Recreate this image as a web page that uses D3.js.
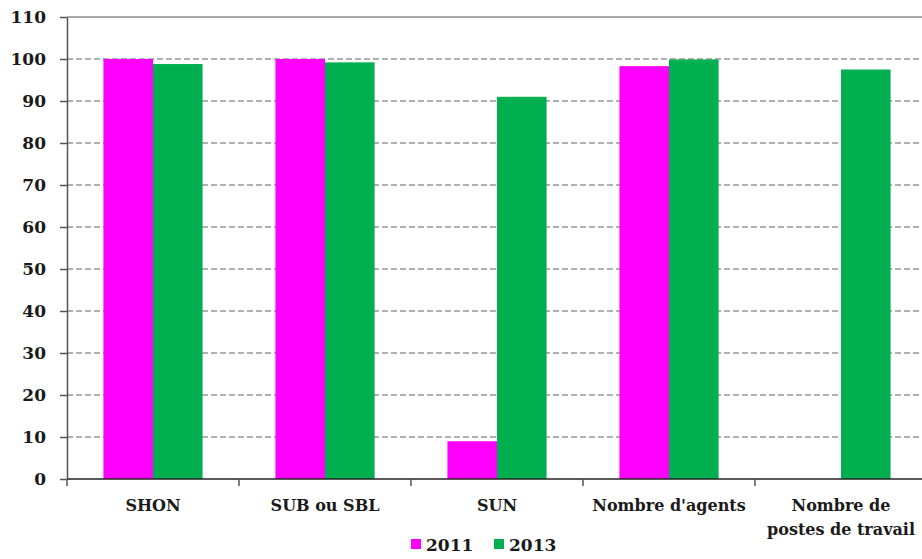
<!DOCTYPE html>
<html>
<head>
<meta charset="utf-8">
<script src="https://cdn.jsdelivr.net/npm/d3@7/dist/d3.min.js"></script>
<style>
  html, body { margin: 0; padding: 0; background: #fff; }
  svg { display: block; }
  text { font-family: "DejaVu Serif", "Liberation Serif", serif; font-weight: bold; fill: #1a1a1a; }
</style>
</head>
<body>
<svg id="chart" width="922" height="559"></svg>
<script>
// Category labels (multi-line where needed)
const categories = ["SHON", "SUB ou SBL", "SUN", "Nombre d'agents", "Nombre de\npostes de travail"];
const seriesNames = ["2011", "2013"];
const values2011 = [100, 100, 9, 98.3, null];
const values2013 = [98.8, 99.2, 91, 99.9, 97.5];
const yTicks = [0, 10, 20, 30, 40, 50, 60, 70, 80, 90, 100, 110];
const colors = ["#FF00FF", "#00B050"];

const svg = d3.select("#chart");
const margin = { left: 67, top: 17, right: -5, bottom: 81 };
const W = 922, H = 559;
const x0 = margin.left, x1 = W - margin.right;
const yTop = margin.top, yBot = H - margin.bottom + 1;

const x = d3.scaleBand().domain(categories).range([x0, x1]).paddingInner(0).paddingOuter(0);
const xs = d3.scaleBand().domain(seriesNames).range([0, x.bandwidth()]).paddingInner(0).paddingOuter(0.7347);
const y = d3.scaleLinear().domain([0, 110]).range([yBot, yTop]);

// dashed gridlines
svg.append("g").selectAll("line")
  .data(yTicks.filter(t => t > 0 && t < 110))
  .join("line")
  .attr("x1", x0).attr("x2", W)
  .attr("y1", d => y(d)).attr("y2", d => y(d))
  .attr("stroke", "#969696").attr("stroke-width", 1.5)
  .attr("stroke-dasharray", "6,3");

// top frame line
svg.append("line")
  .attr("x1", x0).attr("x2", W).attr("y1", y(110)).attr("y2", y(110))
  .attr("stroke", "#8c8c8c").attr("stroke-width", 1.5);

// bars
const series = [values2011, values2013];
const g = svg.append("g");
series.forEach((vals, si) => {
  g.selectAll(null)
    .data(categories.map((c, i) => ({ c, v: vals[i] })).filter(d => d.v != null))
    .join("rect")
    .attr("x", d => x(d.c) + xs(seriesNames[si]))
    .attr("width", xs.bandwidth())
    .attr("y", d => y(d.v))
    .attr("height", d => y(0) - y(d.v))
    .attr("fill", colors[si]);
});

// y axis
const yAxis = d3.axisLeft(y).tickValues(yTicks).tickSize(7).tickPadding(14).tickSizeOuter(0);
const ya = svg.append("g").attr("transform", `translate(${x0},0)`).call(yAxis);
ya.select(".domain").attr("stroke", "#555").attr("stroke-width", 1.5);
ya.selectAll(".tick line").attr("stroke", "#555").attr("stroke-width", 1.5);
ya.selectAll(".tick text")
  .attr("font-family", "DejaVu Serif").attr("font-weight", "bold")
  .attr("font-size", 17).attr("fill", "#1a1a1a");

// x axis line and category ticks
const xa = svg.append("g");
xa.append("line").attr("x1", x0).attr("x2", W).attr("y1", y(0)).attr("y2", y(0))
  .attr("stroke", "#222").attr("stroke-width", 1.5);
xa.selectAll(".ctick")
  .data(categories.map(c => x(c)).concat([x1]))
  .join("line")
  .attr("x1", d => d).attr("x2", d => d)
  .attr("y1", y(0)).attr("y2", y(0) + 7)
  .attr("stroke", "#555").attr("stroke-width", 1.5);

// category labels
const labels = xa.selectAll(".clabel")
  .data(categories)
  .join("text")
  .attr("text-anchor", "middle")
  .attr("font-size", 16)
  .attr("transform", d => `translate(${x(d) + x.bandwidth() / 2},${y(0) + 32})`);
labels.each(function (d) {
  const lines = d.split("\n");
  d3.select(this).selectAll("tspan")
    .data(lines)
    .join("tspan")
    .attr("x", 0)
    .attr("dy", (l, i) => i === 0 ? 0 : 24)
    .text(l => l);
});

// legend
const legend = svg.append("g").attr("transform", "translate(411,539)");
const legendItems = [{ name: seriesNames[0], color: colors[0], dx: 0 }, { name: seriesNames[1], color: colors[1], dx: 83 }];
legendItems.forEach(it => {
  const li = legend.append("g").attr("transform", `translate(${it.dx},0)`);
  li.append("rect").attr("width", 10).attr("height", 10).attr("fill", it.color);
  li.append("text").attr("x", 15).attr("y", 12).attr("font-size", 17).text(it.name);
});
</script>
</body>
</html>
